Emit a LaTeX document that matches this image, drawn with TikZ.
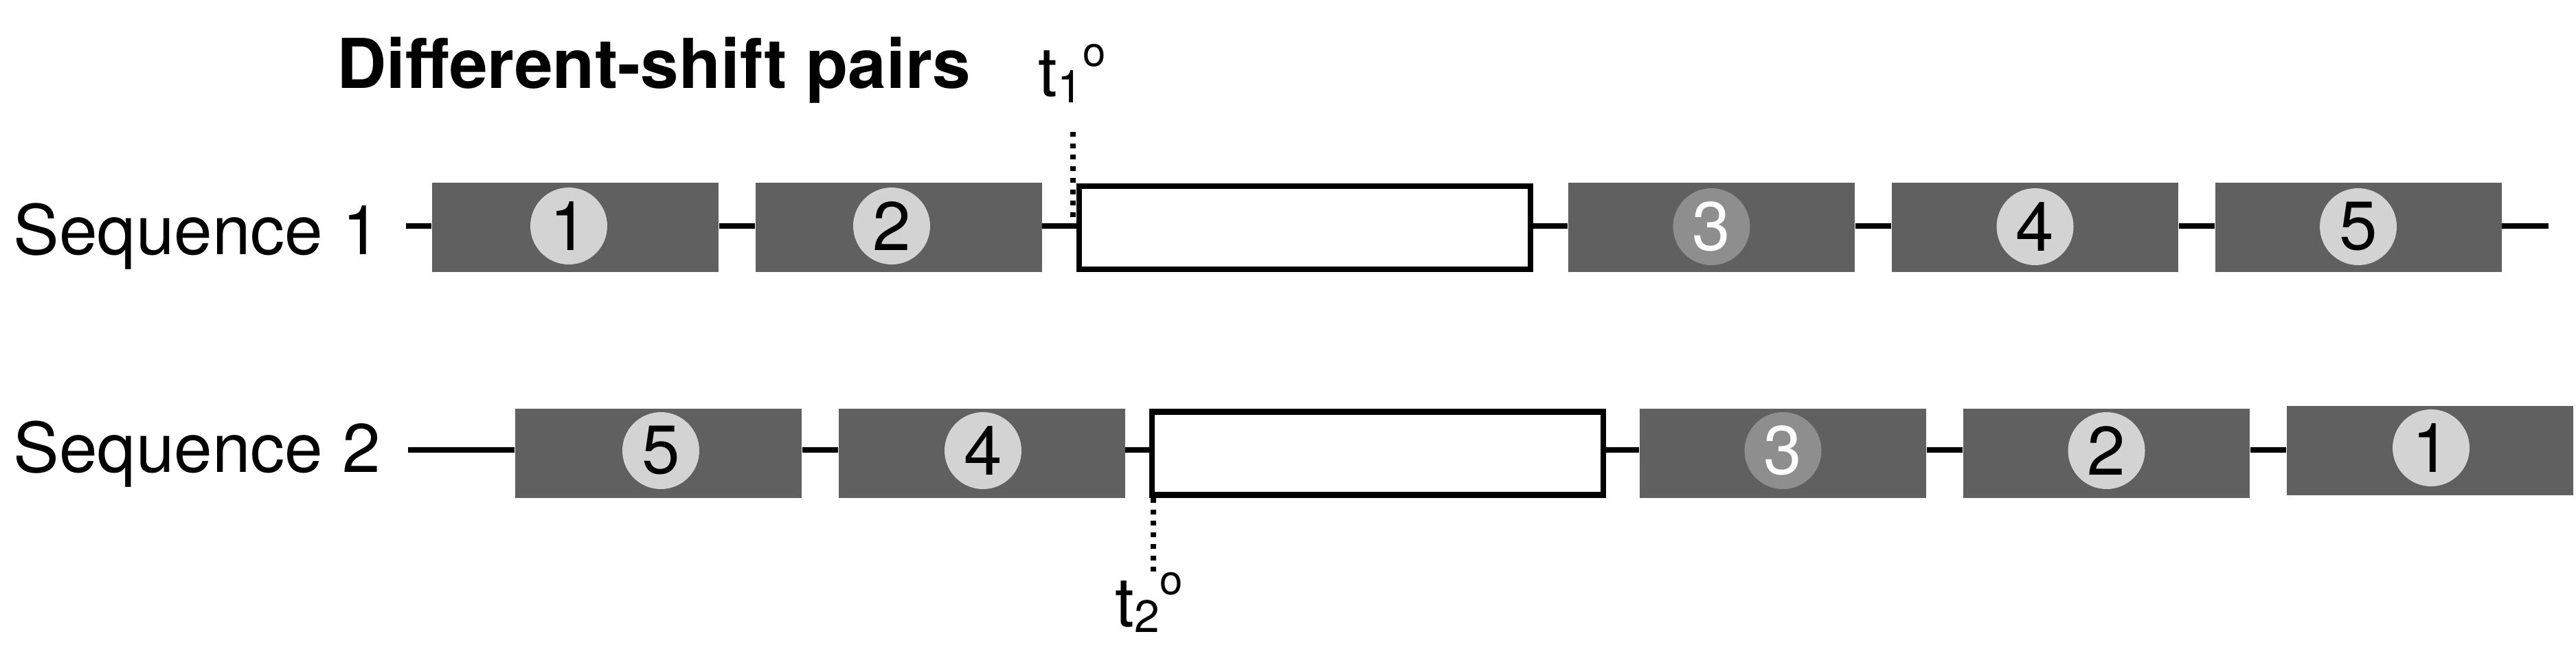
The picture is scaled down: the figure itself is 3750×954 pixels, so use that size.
\documentclass[tikz,border=0pt]{standalone}
\usepackage{fontspec}
\setmainfont{TeX Gyre Heros}
\definecolor{boxgray}{HTML}{606060}
\definecolor{circlight}{HTML}{D3D3D3}
\definecolor{circmid}{HTML}{8E8E8E}
\newcommand\bigfnt{\fontsize{28.45}{34}\selectfont}
\newcommand\subfnt{\fontsize{18.8}{20}\selectfont}
\newcommand\supfnt{\fontsize{17}{18}\selectfont}
\tikzset{
  gbox/.style={rectangle, fill=boxgray, draw=none, minimum width=41.7mm, minimum height=13mm, inner sep=0pt},
  wbox/.style={rectangle, fill=white, draw=black, line width=0.85mm, minimum width=65.7mm, minimum height=12.1mm, inner sep=0pt},
  numc/.style={circle, fill=circlight, minimum size=11.2mm, inner sep=0pt, font=\bigfnt, text=black},
  numcdark/.style={numc, fill=circmid, text=white},
  seqline/.style={line width=0.8mm, draw=black},
  tdots/.style={line width=0.75mm, draw=black, dash pattern=on 0.7mm off 0.97mm},
  lab/.style={anchor=base west, inner sep=0pt, font=\bigfnt},
}
\begin{document}
\begin{tikzpicture}[x=0.1mm,y=-0.1mm]
\useasboundingbox (0,0) rectangle (3750,954);
% title and row labels
\node[lab, font=\bigfnt\bfseries] (title) at (490,128) {Different-shift pairs};
\node[lab] (seq1) at (19,370) {Sequence 1};
\node[lab] (seq2) at (19,687) {Sequence 2};
% sequence 1
\coordinate (s1l) at (591,329);
\coordinate (s1r) at (3710,329);
\node[gbox] (a1) at (837.5,331) {};
\node[gbox] (a2) at (1308,331) {};
\node[wbox] (aw) at (1899.5,331.5) {};
\node[gbox] (a3) at (2491.5,331) {};
\node[gbox] (a4) at (2962.5,331) {};
\node[gbox] (a5) at (3433,331) {};
\node[numc] (ac1) at (828,329) {1};
\node[numc] (ac2) at (1298,329) {2};
\node[numcdark] (ac3) at (2491.5,330) {3};
\node[numc] (ac4) at (2962.5,330) {4};
\node[numc] (ac5) at (3433,330) {5};
\draw[seqline] (s1l) -- (s1l -| a1.west);
\draw[seqline] (s1l -| a1.east) -- (s1l -| a2.west);
\draw[seqline] (s1l -| a2.east) -- (s1l -| aw.west);
\draw[seqline] (s1l -| aw.east) -- (s1l -| a3.west);
\draw[seqline] (s1l -| a3.east) -- (s1l -| a4.west);
\draw[seqline] (s1l -| a4.east) -- (s1l -| a5.west);
\draw[seqline] (s1l -| a5.east) -- (s1r);
% sequence 2
\coordinate (s2l) at (594,654.5);
\node[gbox] (b5) at (958.5,660) {};
\node[gbox] (b4) at (1429,660) {};
\node[wbox] (bw) at (2005.5,660) {};
\node[gbox] (b3) at (2595.5,660) {};
\node[gbox] (b2) at (3066.5,660) {};
\node[gbox] (b1) at (3537.5,656) {};
\node[numc] (bc5) at (962,656) {5};
\node[numc] (bc4) at (1431,656) {4};
\node[numcdark] (bc3) at (2595.5,656) {3};
\node[numc] (bc2) at (3066.5,656) {2};
\node[numc] (bc1) at (3539,652) {1};
\draw[seqline] (s2l) -- (s2l -| b5.west);
\draw[seqline] (s2l -| b5.east) -- (s2l -| b4.west);
\draw[seqline] (s2l -| b4.east) -- (s2l -| bw.west);
\draw[seqline] (s2l -| bw.east) -- (s2l -| b3.west);
\draw[seqline] (s2l -| b3.east) -- (s2l -| b2.west);
\draw[seqline] (s2l -| b2.east) -- (s2l -| b1.west);
% time markers
\node[lab] (t1) at (1511,140) {t\raisebox{-2.6pt}{\subfnt 1}\raisebox{12.5pt}{\supfnt o}};
\node[lab] (t2) at (1623,912) {t\raisebox{-2.3pt}{\subfnt 2}\raisebox{13.3pt}{\supfnt o}};
\coordinate (t1top) at (1562,192);
\coordinate (t1bot) at (1562,317);
\coordinate (t2top) at (1679,725);
\coordinate (t2bot) at (1679,833);
\draw[tdots] (t1top) -- (t1bot);
\draw[tdots] (t2top) -- (t2bot);
\end{tikzpicture}
\end{document}
